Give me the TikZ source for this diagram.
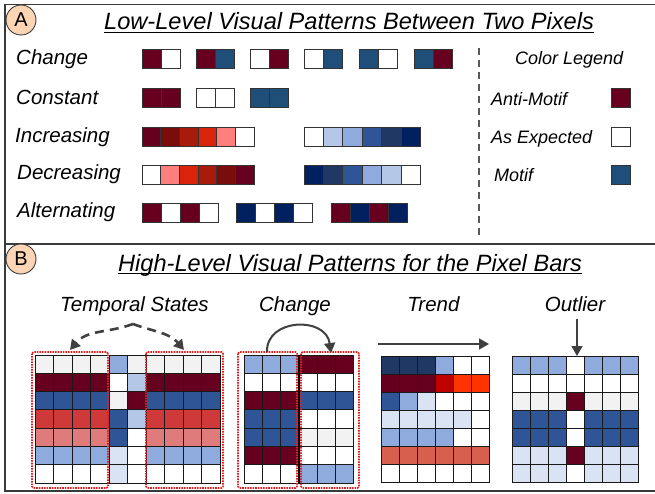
\documentclass[tikz,border=0pt]{standalone}
\usepackage{fontspec}
\setmainfont{Liberation Sans}
\usetikzlibrary{arrows.meta}
\definecolor{am}{HTML}{67001F}
\definecolor{mo}{HTML}{1F4E79}
\definecolor{nv}{HTML}{002060}
\definecolor{nv2}{HTML}{203864}
\definecolor{bl}{HTML}{2F5597}
\definecolor{lb}{HTML}{8FAADC}
\definecolor{lb2}{HTML}{B4C7E7}
\definecolor{vl}{HTML}{DAE3F3}
\definecolor{lg}{HTML}{F2F2F2}
\definecolor{wh}{HTML}{FFFFFF}
\definecolor{r1}{HTML}{7B0C0C}
\definecolor{r2}{HTML}{A81A0A}
\definecolor{r3}{HTML}{D9230A}
\definecolor{sal}{HTML}{FF7F7F}
\definecolor{rd}{HTML}{D0393A}
\definecolor{lr}{HTML}{E07B7B}
\definecolor{dr}{HTML}{C00000}
\definecolor{orr}{HTML}{FF3300}
\definecolor{tr}{HTML}{D6604D}
\definecolor{peach}{HTML}{FDD5B4}
\definecolor{frame}{HTML}{3A3A3A}
\definecolor{arr}{HTML}{404040}
\definecolor{dotred}{HTML}{E02020}
\newcommand\cellrow[5]{%
  \foreach \cc [count=\ii from 0] in {#5} {
    \draw[cell, fill=\cc] ({#1+\ii*#3},#2) rectangle ++(#3,#4);
  }}
\newcommand\cellgrid[5]{%
  \foreach \rr [count=\jj from 0] in {#5} {
    \foreach \cc [count=\ii from 0] in \rr {
      \draw[gcell, fill=\cc] ({#1+\ii*#3},{#2+\jj*#4}) rectangle ++(#3,#4);
    }}}
\begin{document}
\begin{tikzpicture}[x=1pt,y=-1pt,
  cell/.style={draw=black!80, line width=0.9pt},
  gcell/.style={draw=black!90, line width=0.9pt},
  panel/.style={draw=frame, line width=1.4pt},
  badge/.style={circle, draw=frame, fill=peach, line width=0.9pt, minimum size=30pt, inner sep=0pt, font=\fontsize{20}{20}\selectfont},
  ttl/.style={anchor=base west, inner sep=0pt, font=\fontsize{23.6}{23.6}\selectfont\itshape},
  lbl/.style={anchor=base west, inner sep=0pt, font=\fontsize{20.5}{20.5}\selectfont\itshape},
  leg/.style={anchor=base west, inner sep=0pt, font=\fontsize{18}{18}\selectfont\itshape},
  sub/.style={anchor=base, inner sep=0pt, font=\fontsize{20.5}{20.5}\selectfont\itshape},
  redbox/.style={draw=dotred, densely dotted, line width=1.6pt, rounded corners=1.5pt},
  darr/.style={draw=arr, line width=2pt, -{Triangle[length=10pt,width=11pt]}},
  ]
\useasboundingbox (0,0) rectangle (655,494);
% panels
\draw[panel] (5,4.5) rectangle (662,244);
\draw[panel] (5,244) rectangle (662,491);
\node[badge] (bA) at (21,20) {A};
\node[badge] (bB) at (21,259) {B};
% ---------- panel A ----------
\node[ttl] (tA) at (104,30) {Low-Level Visual Patterns Between Two Pixels};
\draw[line width=1.1pt] ([yshift=-2.5pt]tA.base west) -- ([yshift=-2.5pt]tA.base east);
\node[lbl] (lch) at (16,65) {Change};
\node[lbl] (lco) at (16,105) {Constant};
\node[lbl] (lin) at (15,143) {Increasing};
\node[lbl] (lde) at (17,180) {Decreasing};
\node[lbl] (lal) at (17,218) {Alternating};
% change
\cellrow{142}{49}{19}{19}{am,wh}
\cellrow{196}{49}{19}{19}{am,mo}
\cellrow{250}{49}{19}{19}{wh,am}
\cellrow{304}{49}{19}{19}{wh,mo}
\cellrow{359}{49}{19}{19}{mo,wh}
\cellrow{414}{49}{19}{19}{mo,am}
% constant
\cellrow{142}{88}{19}{19}{am,am}
\cellrow{196}{88}{19}{19}{wh,wh}
\cellrow{250}{88}{19}{19}{mo,mo}
% increasing
\cellrow{142}{127}{18.7}{19}{am,r1,r2,r3,sal,wh}
\cellrow{304}{127}{19.4}{19}{wh,lb2,lb,bl,nv2,nv}
% decreasing
\cellrow{142}{165}{18.7}{19}{wh,sal,r3,r2,r1,am}
\cellrow{304}{165}{19.4}{19}{nv,nv2,bl,lb,lb2,wh}
% alternating
\cellrow{142}{203.5}{19}{19}{am,wh,am,wh}
\cellrow{236}{203.5}{19}{19}{nv,wh,nv,wh}
\cellrow{331}{203.5}{19.2}{19}{am,nv,am,nv}
% divider
\coordinate (dvt) at (479,48);
\coordinate (dvb) at (479,236);
\draw[draw=black!65, line width=1.3pt, dash pattern=on 7pt off 5pt] (dvt) -- (dvb);
% legend
\node[leg] (lgt) at (515,65) {Color Legend};
\node[leg] (lgam) at (491,106) {Anti-Motif};
\node[leg] (lgae) at (491,144) {As Expected};
\node[leg] (lgmo) at (494,182) {Motif};
\cellrow{611}{88}{19}{19}{am}
\cellrow{611}{127}{19}{19}{wh}
\cellrow{611}{165}{19}{19}{mo}
% ---------- panel B ----------
\node[ttl] (tB) at (118,271) {High-Level Visual Patterns for the Pixel Bars};
\draw[line width=1.1pt] ([yshift=-2.5pt]tB.base west) -- ([yshift=-2.5pt]tB.base east);
\node[sub] (sts) at (134.5,311) {Temporal States};
\node[sub] (sch) at (295,311) {Change};
\node[sub] (str) at (433.5,311) {Trend};
\node[sub] (sou) at (575,311) {Outlier};
% temporal states grid
\cellgrid{35}{355}{18.5}{18.3}{{lg,lg,lg,lg,lb,lg,lg,lg,lg,lg},{am,am,am,am,wh,lb2,am,am,am,am},{bl,bl,bl,bl,lg,am,bl,bl,bl,bl},{rd,rd,rd,rd,bl,lb2,rd,rd,rd,rd},{lr,lr,lr,lr,bl,wh,lr,lr,lr,lr},{lb,lb,lb,lb,vl,wh,lb,lb,lb,lb},{wh,wh,wh,wh,vl,wh,wh,wh,wh,wh}}
\draw[redbox] (32,352) rectangle (108,488);
\draw[redbox] (146,352) rectangle (223,488);
\coordinate (tsapex) at (133,324);
\coordinate (tsl) at (70,350);
\coordinate (tsr) at (184,350);
\draw[darr, line width=2.6pt, dash pattern=on 9pt off 6pt] (tsapex) to[out=200,in=50] (tsl);
\draw[darr, line width=2.6pt, dash pattern=on 9pt off 6pt] (tsapex) to[out=-20,in=130] (tsr);
% change grid
\cellgrid{244}{355}{18.3}{18.3}{{lb,lb,lb,am,am,am},{wh,wh,wh,wh,wh,wh},{am,am,am,bl,bl,bl},{bl,bl,bl,wh,wh,wh},{bl,bl,bl,lg,lg,lg},{am,am,am,wh,wh,wh},{wh,wh,wh,lb,lb,lb}}
\coordinate (chmt) at (299,355);
\coordinate (chmb) at (299,483);
\draw[line width=1.8pt] (chmt) -- (chmb);
\draw[redbox] (238,352) rectangle (297,488);
\draw[redbox] (301,352) rectangle (359,488);
\coordinate (chs) at (267,352);
\coordinate (che) at (331,353);
\draw[darr] (chs) .. controls (266,318) and (326,316) .. (che);
% trend grid
\cellgrid{381}{356}{18}{18.1}{{nv2,nv2,nv2,lb,wh,wh},{am,am,am,dr,orr,orr},{bl,lb,vl,wh,wh,wh},{vl,vl,vl,vl,vl,wh},{lb,lb,lb,lb,wh,wh},{tr,tr,tr,tr,tr,tr},{wh,wh,wh,wh,wh,wh}}
\coordinate (trs) at (378,344);
\coordinate (tre) at (489,344);
\draw[darr, line width=1.6pt] (trs) -- (tre);
% outlier grid
\cellgrid{512}{356}{18}{18.1}{{lb,lb,lb,wh,lb,lb,lb},{wh,wh,wh,wh,wh,wh,wh},{lg,lg,lg,am,lg,lg,lg},{bl,bl,bl,wh,bl,bl,bl},{bl,bl,bl,wh,bl,bl,bl},{vl,vl,vl,am,vl,vl,vl},{vl,vl,vl,wh,vl,vl,vl}}
\coordinate (ous) at (577,319);
\coordinate (oue) at (577,356);
\draw[darr, line width=1.6pt] (ous) -- (oue);
\end{tikzpicture}
\end{document}
